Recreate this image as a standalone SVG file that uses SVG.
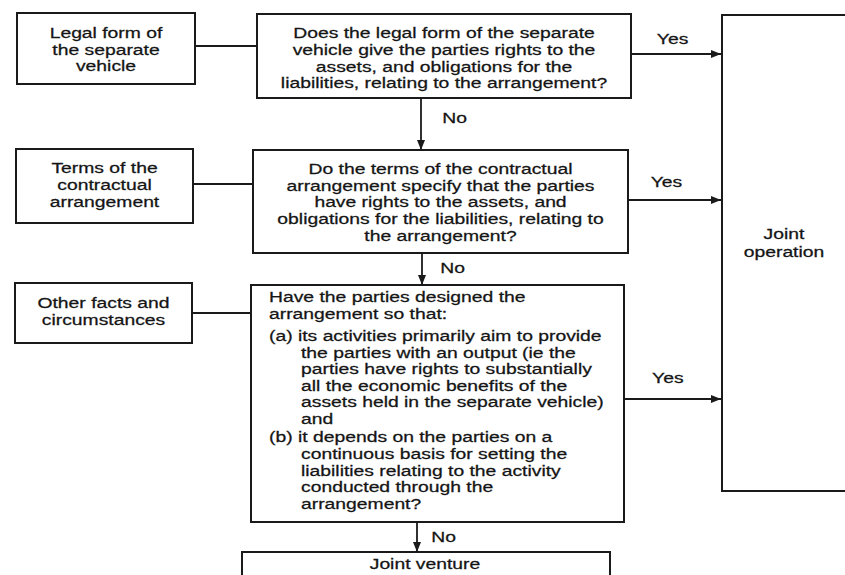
<svg xmlns="http://www.w3.org/2000/svg" width="845" height="575" viewBox="0 0 845 575">
<style>
.box{fill:#fff;stroke:#1a1a1a;stroke-width:2}
.t{font-family:"Liberation Sans",Arial,sans-serif;font-size:14px;fill:#151515;stroke:#151515;stroke-width:0.25}
.c{text-anchor:middle}
.ln{stroke:#1a1a1a;stroke-width:1.8;fill:none}
</style>
<defs>
<marker id="ah" markerUnits="userSpaceOnUse" markerWidth="10" markerHeight="8" refX="10" refY="4" orient="auto">
<path d="M0,0 L10,4 L0,8 z" fill="#1a1a1a"/>
</marker>
</defs>
<rect width="845" height="575" fill="#fff"/>

<g id="legal-form">
<rect class="box" x="17" y="13" width="178" height="71"/>
<g transform="matrix(1.38 0 0 1 106 0)"><text class="t c"><tspan x="0" y="38">Legal form of</tspan><tspan x="0" y="55">the separate</tspan><tspan x="0" y="71.5">vehicle</tspan></text></g>
</g>

<g id="q1">
<rect class="box" x="257" y="14" width="374" height="84"/>
<g transform="matrix(1.38 0 0 1 444 0)"><text class="t c"><tspan x="0" y="38">Does the legal form of the separate</tspan><tspan x="0" y="55">vehicle give the parties rights to the</tspan><tspan x="0" y="72">assets, and obligations for the</tspan><tspan x="0" y="88.5">liabilities, relating to the arrangement?</tspan></text></g>
</g>

<g id="terms">
<rect class="box" x="16" y="149" width="177" height="74"/>
<g transform="matrix(1.38 0 0 1 104.5 0)"><text class="t c"><tspan x="0" y="173.5">Terms of the</tspan><tspan x="0" y="190.5">contractual</tspan><tspan x="0" y="207">arrangement</tspan></text></g>
</g>

<g id="q2">
<rect class="box" x="253" y="150" width="375" height="103"/>
<g transform="matrix(1.38 0 0 1 440.5 0)"><text class="t c"><tspan x="0" y="174">Do the terms of the contractual</tspan><tspan x="0" y="191">arrangement specify that the parties</tspan><tspan x="0" y="207.5">have rights to the assets, and</tspan><tspan x="0" y="224.5">obligations for the liabilities, relating to</tspan><tspan x="0" y="241">the arrangement?</tspan></text></g>
</g>

<g id="other">
<rect class="box" x="15" y="283" width="177" height="60"/>
<g transform="matrix(1.38 0 0 1 103.5 0)"><text class="t c"><tspan x="0" y="308">Other facts and</tspan><tspan x="0" y="325">circumstances</tspan></text></g>
</g>

<g id="q3">
<rect class="box" x="251" y="285" width="373" height="237"/>
<g transform="matrix(1.38 0 0 1 269 0)"><text class="t"><tspan x="0" y="302.5">Have the parties designed the</tspan><tspan x="0" y="319">arrangement so that:</tspan><tspan x="0" y="341.5">(a) its activities primarily aim to provide</tspan><tspan x="23.2" y="358">the parties with an output (ie the</tspan><tspan x="23.2" y="374.5">parties have rights to substantially</tspan><tspan x="23.2" y="391">all the economic benefits of the</tspan><tspan x="23.2" y="407.5">assets held in the separate vehicle)</tspan><tspan x="23.2" y="424.5">and</tspan><tspan x="0" y="442">(b) it depends on the parties on a</tspan><tspan x="23.2" y="459">continuous basis for setting the</tspan><tspan x="23.2" y="476">liabilities relating to the activity</tspan><tspan x="23.2" y="492.5">conducted through the</tspan><tspan x="23.2" y="509">arrangement?</tspan></text></g>
</g>

<g id="joint-operation">
<rect class="box" x="722" y="15" width="140" height="476"/>
<g transform="matrix(1.38 0 0 1 784 0)"><text class="t c"><tspan x="0" y="239">Joint</tspan><tspan x="0" y="257">operation</tspan></text></g>
</g>

<g id="joint-venture">
<rect class="box" x="242" y="552" width="368" height="40"/>
<g transform="matrix(1.38 0 0 1 425 0)"><text class="t c"><tspan x="0" y="569">Joint venture</tspan></text></g>
</g>

<g id="connectors">
<line class="ln" x1="195" y1="46" x2="257" y2="46"/>
<line class="ln" x1="193" y1="184" x2="253" y2="184"/>
<line class="ln" x1="192" y1="313" x2="251" y2="313"/>
<line class="ln" x1="421" y1="98" x2="421" y2="150" marker-end="url(#ah)"/>
<line class="ln" x1="422" y1="253" x2="422" y2="285" marker-end="url(#ah)"/>
<line class="ln" x1="417" y1="522" x2="417" y2="552" marker-end="url(#ah)"/>
<line class="ln" x1="631" y1="54" x2="721" y2="54" marker-end="url(#ah)"/>
<line class="ln" x1="628" y1="200" x2="721" y2="200" marker-end="url(#ah)"/>
<line class="ln" x1="624" y1="399" x2="721" y2="399" marker-end="url(#ah)"/>
<g transform="matrix(1.38 0 0 1 0 0)">
<text class="t" x="476" y="44">Yes</text>
<text class="t" x="471.5" y="187.5">Yes</text>
<text class="t" x="472.5" y="383.5">Yes</text>
<text class="t" x="320.5" y="123">No</text>
<text class="t" x="319" y="273">No</text>
<text class="t" x="312.5" y="542">No</text>
</g>
</g>
</svg>
